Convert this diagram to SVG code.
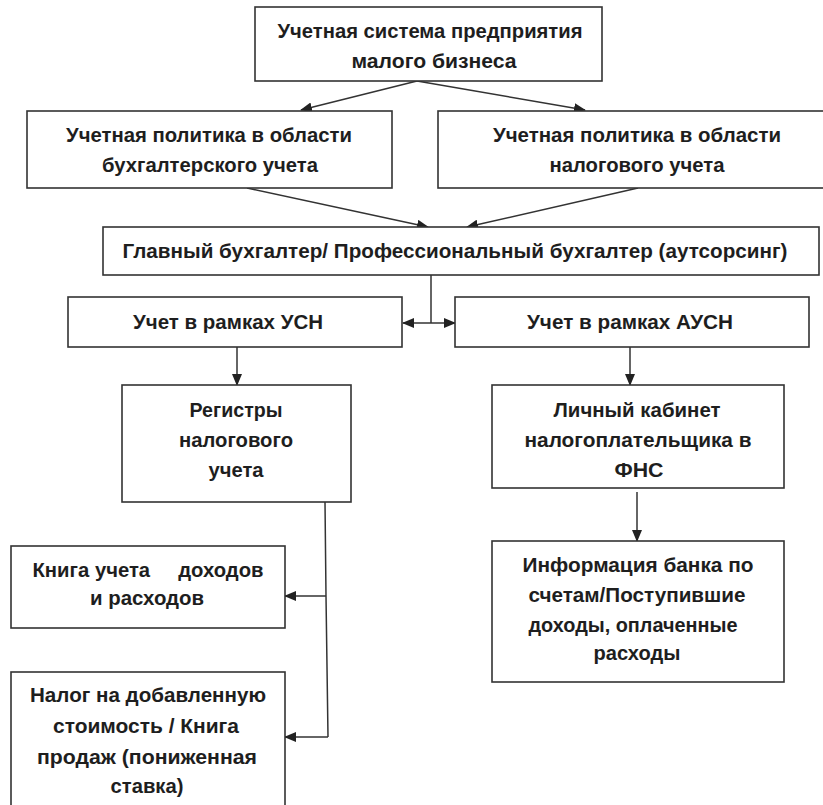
<svg xmlns="http://www.w3.org/2000/svg" width="823" height="805" viewBox="0 0 823 805">
<style>
.box{fill:#fff;stroke:#333;stroke-width:1.6}
.c{fill:none;stroke:#333;stroke-width:1.5}
.t{font-family:"Liberation Sans","DejaVu Sans",sans-serif;font-weight:bold;fill:#1e1e1e;text-anchor:middle}
.a{font-size:20px}
.n{font-size:20px}
</style>
<defs>
<marker id="ah" markerUnits="userSpaceOnUse" markerWidth="12" markerHeight="10" refX="11" refY="5" orient="auto">
<path d="M0,0 L12,5 L0,10 Z" fill="#222"/>
</marker>
<marker id="as" markerUnits="userSpaceOnUse" markerWidth="12" markerHeight="10" refX="1" refY="5" orient="auto">
<path d="M12,0 L0,5 L12,10 Z" fill="#222"/>
</marker>
</defs>
<rect width="823" height="805" fill="#fff"/>
<g id="connectors">
<line class="c" x1="417" y1="81" x2="301" y2="110" marker-end="url(#ah)"/>
<line class="c" x1="417" y1="81" x2="585" y2="110" marker-end="url(#ah)"/>
<line class="c" x1="247" y1="188" x2="428" y2="227" marker-end="url(#ah)"/>
<line class="c" x1="638" y1="188" x2="467" y2="227" marker-end="url(#ah)"/>
<line class="c" x1="431" y1="275" x2="431" y2="323"/>
<line class="c" x1="403" y1="323" x2="455" y2="323" marker-start="url(#as)" marker-end="url(#ah)"/>
<line class="c" x1="237" y1="347" x2="237" y2="385" marker-end="url(#ah)"/>
<line class="c" x1="630" y1="347" x2="630" y2="385" marker-end="url(#ah)"/>
<line class="c" x1="637" y1="492" x2="637" y2="541" marker-end="url(#ah)"/>
<polyline class="c" points="325,502 326,596 328,737"/>
<line class="c" x1="326" y1="596" x2="285" y2="596" marker-end="url(#ah)"/>
<line class="c" x1="328" y1="737" x2="285" y2="737" marker-end="url(#ah)"/>
</g>
<g id="n-top">
<rect class="box" x="255" y="7" width="347" height="74"/>
<text class="t a" x="430" y="38" textLength="305" lengthAdjust="spacingAndGlyphs">Учетная система предприятия</text>
<text class="t a" x="434" y="68" textLength="165" lengthAdjust="spacingAndGlyphs">малого бизнеса</text>
</g>
<g id="n-policy-acc">
<rect class="box" x="27" y="111" width="365" height="77"/>
<text class="t n" x="209" y="142" textLength="286" lengthAdjust="spacingAndGlyphs">Учетная политика в области</text>
<text class="t n" x="210" y="172" textLength="216" lengthAdjust="spacingAndGlyphs">бухгалтерского учета</text>
</g>
<g id="n-policy-tax">
<rect class="box" x="438" y="111" width="400" height="77"/>
<text class="t n" x="637" y="142" textLength="288" lengthAdjust="spacingAndGlyphs">Учетная политика в области</text>
<text class="t n" x="637" y="172" textLength="175" lengthAdjust="spacingAndGlyphs">налогового учета</text>
</g>
<g id="n-chief">
<rect class="box" x="103" y="227" width="716" height="48"/>
<text class="t n" x="455" y="258" textLength="665" lengthAdjust="spacingAndGlyphs">Главный бухгалтер/ Профессиональный бухгалтер (аутсорсинг)</text>
</g>
<g id="n-usn">
<rect class="box" x="68" y="297" width="334" height="50"/>
<text class="t n" x="228" y="329" textLength="190" lengthAdjust="spacingAndGlyphs">Учет в рамках УСН</text>
</g>
<g id="n-ausn">
<rect class="box" x="455" y="297" width="354" height="50"/>
<text class="t n" x="630" y="329" textLength="206" lengthAdjust="spacingAndGlyphs">Учет в рамках АУСН</text>
</g>
<g id="n-registers">
<rect class="box" x="122" y="385" width="229" height="117"/>
<text class="t n" x="236" y="417" textLength="93" lengthAdjust="spacingAndGlyphs">Регистры</text>
<text class="t n" x="236" y="447" textLength="114" lengthAdjust="spacingAndGlyphs">налогового</text>
<text class="t n" x="236" y="477" textLength="55" lengthAdjust="spacingAndGlyphs">учета</text>
</g>
<g id="n-cabinet">
<rect class="box" x="492" y="385" width="292" height="103"/>
<text class="t n" x="637" y="417" textLength="167" lengthAdjust="spacingAndGlyphs">Личный кабинет</text>
<text class="t n" x="638" y="447" textLength="227" lengthAdjust="spacingAndGlyphs">налогоплательщика в</text>
<text class="t n" x="639" y="477" textLength="49" lengthAdjust="spacingAndGlyphs">ФНС</text>
</g>
<g id="n-book">
<rect class="box" x="11" y="546" width="274" height="82"/>
<text class="t a" x="148" y="577" xml:space="preserve" textLength="231" lengthAdjust="spacingAndGlyphs">Книга учета     доходов</text>
<text class="t a" x="147" y="605" textLength="114" lengthAdjust="spacingAndGlyphs">и расходов</text>
</g>
<g id="n-nds">
<rect class="box" x="11" y="672" width="274" height="140"/>
<text class="t a" x="148" y="702" textLength="236" lengthAdjust="spacingAndGlyphs">Налог на добавленную</text>
<text class="t a" x="146" y="733" textLength="186" lengthAdjust="spacingAndGlyphs">стоимость / Книга</text>
<text class="t a" x="147" y="764" textLength="220" lengthAdjust="spacingAndGlyphs">продаж (пониженная</text>
<text class="t a" x="147" y="793" textLength="73" lengthAdjust="spacingAndGlyphs">ставка)</text>
</g>
<g id="n-bank">
<rect class="box" x="492" y="541" width="292" height="141"/>
<text class="t a" x="638" y="572" textLength="231" lengthAdjust="spacingAndGlyphs">Информация банка по</text>
<text class="t a" x="637" y="602" textLength="217" lengthAdjust="spacingAndGlyphs">счетам/Поступившие</text>
<text class="t a" x="633" y="632" textLength="209" lengthAdjust="spacingAndGlyphs">доходы, оплаченные</text>
<text class="t a" x="637" y="660" textLength="87" lengthAdjust="spacingAndGlyphs">расходы</text>
</g>
</svg>
